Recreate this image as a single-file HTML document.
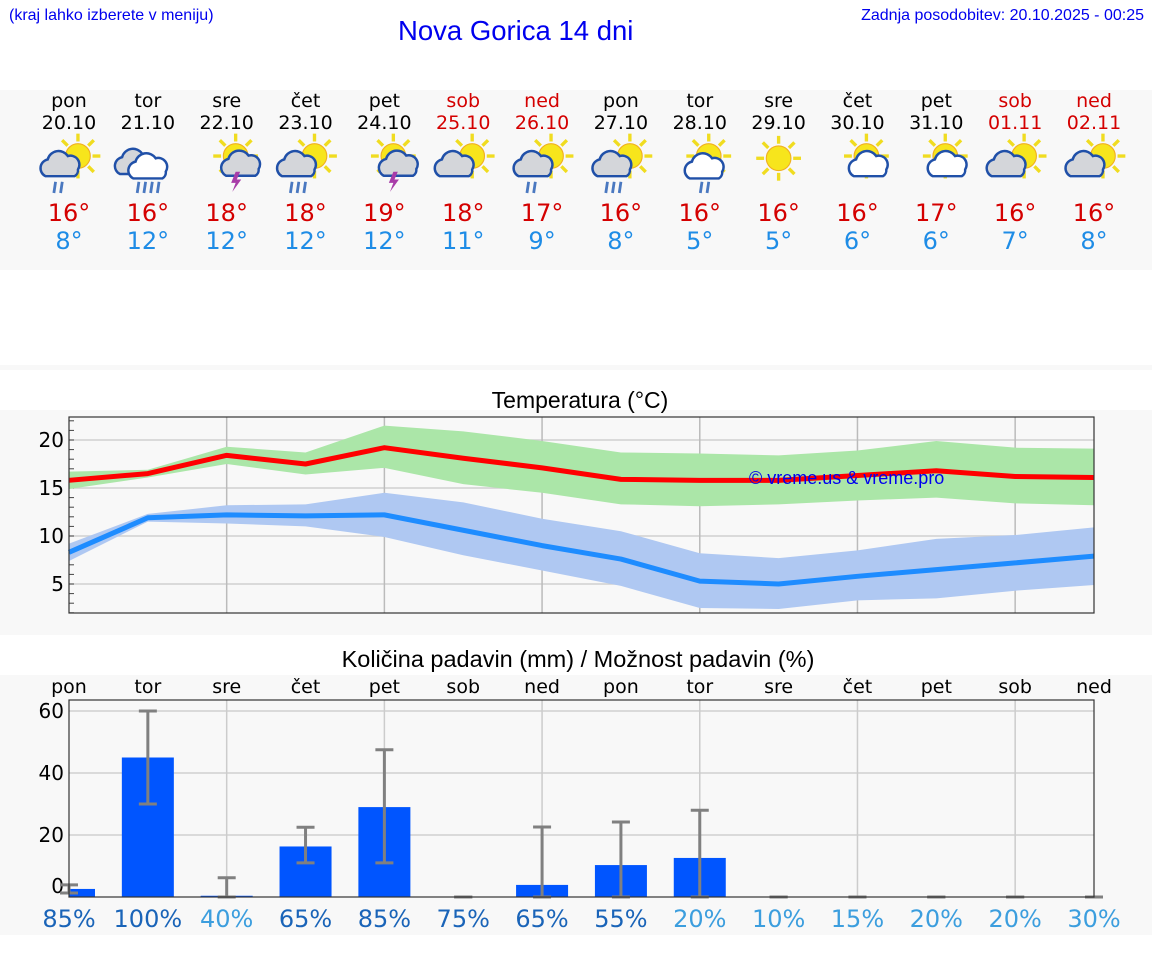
<!DOCTYPE html>
<html><head><meta charset="utf-8">
<style>
body{margin:0;width:1152px;height:975px;background:#fff;font-family:"Liberation Sans","DejaVu Sans",sans-serif;position:relative;overflow:hidden}
.abs{position:absolute}
</style></head>
<body>
<div class="abs" style="left:9px;top:7px;font-size:16px;color:#0000ee">(kraj lahko izberete v meniju)</div>
<div class="abs" style="left:398px;top:15px;font-size:27.5px;color:#0000ee">Nova Gorica 14 dni</div>
<div class="abs" style="right:8px;top:7px;font-size:16px;color:#0000ee">Zadnja posodobitev: 20.10.2025 - 00:25</div>
<div class="abs" style="left:0;top:90px;width:1152px;height:180px;background:#f8f8f8"></div>
<div class="abs" style="left:0;top:365px;width:1152px;height:5px;background:#f8f8f8"></div>
<div class="abs" style="left:0;top:410px;width:1152px;height:225px;background:#f8f8f8"></div>
<div class="abs" style="left:0;top:675px;width:1152px;height:260px;background:#f8f8f8"></div>
<svg id="s" class="abs" style="left:0;top:0" width="1152" height="975" font-family="DejaVu Sans, sans-serif"></svg>
<script>
const days=["pon","tor","sre","čet","pet","sob","ned","pon","tor","sre","čet","pet","sob","ned"];
const dates=["20.10","21.10","22.10","23.10","24.10","25.10","26.10","27.10","28.10","29.10","30.10","31.10","01.11","02.11"];
const weekend=[0,0,0,0,0,1,1,0,0,0,0,0,1,1];
const icons=["scr2","cr4","sl","scr3","sl","sc","scr2","scr3","swr2","s","sw","sw","sc","sc"];
const tmax=[15.8,16.5,18.4,17.5,19.2,18.1,17.1,15.9,15.8,15.8,16.3,16.8,16.2,16.1];
const tmaxHi=[16.7,16.9,19.3,18.7,21.5,20.9,19.9,18.7,18.6,18.4,18.9,19.9,19.2,19.1];
const tmaxLo=[14.9,16.1,17.5,16.4,17.1,15.4,14.5,13.3,13.1,13.3,13.7,14.0,13.4,13.2];
const tmin=[8.3,11.9,12.2,12.1,12.2,10.6,9.0,7.6,5.3,5.0,5.8,6.5,7.2,7.9];
const tminHi=[9.2,12.3,13.2,13.3,14.5,13.5,11.8,10.5,8.2,7.7,8.5,9.7,10.1,10.9];
const tminLo=[7.4,11.5,11.3,11.0,9.9,8.0,6.4,4.8,2.5,2.4,3.3,3.5,4.3,4.9];
const hiLabels=[16,16,18,18,19,18,17,16,16,16,16,17,16,16];
const loLabels=[8,12,12,12,12,11,9,8,5,5,6,6,7,8];
const precip=[2.6,45,0.4,16.3,29,0,3.9,10.3,12.6,0,0,0,0,0];
const precipLo=[1.3,30,0,11,11,0,0,0,0,0,0,0,0,0];
const precipHi=[3.9,60,6.2,22.5,47.5,0,22.6,24.2,28,0,0,0,0,0];
const chance=[85,100,40,65,85,75,65,55,20,10,15,20,20,30];
const tTicks=[5,10,15,20];
const pTicks=[0,20,40,60];

const S=document.getElementById('s');const NS='http://www.w3.org/2000/svg';
function mk(t,a,p){const e=document.createElementNS(NS,t);for(const k in a)e.setAttribute(k,a[k]);(p||S).appendChild(e);return e;}
const X=i=>69+i*(1094-69)/13;
const TY=v=>440+(20-v)*9.6;
const PY=v=>897-v*3.1;

days.forEach((d,i)=>{
 const c=weekend[i]?'#d40000':'#000';
 let t=mk('text',{x:X(i),y:107,'text-anchor':'middle','font-size':19,fill:c});t.textContent=d;
 
 
 t=mk('text',{x:X(i),y:129,'text-anchor':'middle','font-size':19,fill:c});t.textContent=dates[i];
 
 
 t=mk('text',{x:X(i),y:221,'text-anchor':'middle','font-size':24,fill:'#d40000'});t.textContent=hiLabels[i]+'°';
 
 
 t=mk('text',{x:X(i),y:249,'text-anchor':'middle','font-size':24,fill:'#1e8ce6'});t.textContent=loLabels[i]+'°';
 
 
 const g=mk('g',{transform:`translate(${X(i)},165) scale(1.12)`});
 
 
 const ty=icons[i];
 const sun=ty[0]==='s';
 if(sun){const sx=ty==='s'?0:8,sy=ty==='s'?-6:-8;
  for(let k=0;k<8;k++){const a=k*Math.PI/4;mk('line',{x1:sx+Math.cos(a)*13,y1:sy+Math.sin(a)*13,x2:sx+Math.cos(a)*20,y2:sy+Math.sin(a)*20,stroke:'#f0dc20','stroke-width':3},g);}
  mk('circle',{cx:sx,cy:sy,r:11,fill:'#f7e51c',stroke:'#f0b020','stroke-width':1},g);}
 const cloud=(cx,cy,s,f)=>{mk('path',{d:`M${cx-15*s},${cy+8*s} a8 8 0 0 1 2,-15 a10 10 0 0 1 18,-3 a8 8 0 0 1 9,12 a6 6 0 0 1 -3,6 z`,fill:f,stroke:'#2050a8','stroke-width':2.2},g);};
 if(ty.includes('c')||ty==='cr4'){ if(ty==='cr4'){cloud(-10,0,1,'#d4d6da');cloud(2,4,1,'#fff');} else cloud(-6,2,1,'#d4d6da');}
 if(ty.includes('w')){cloud(ty==='sw'?8:6,4,ty==='sw'?0.75:1,'#fff');}
 if(ty==='sl'){cloud(10,4,0.7,'#d4d6da');mk('path',{d:'M8,6 l-4,10 h4 l-3,8 l8,-11 h-4 l3,-7z',fill:'#a83ca8'},g);}
 const m=ty.match(/r(\d)/);
 if(m){const n=+m[1];for(let k=0;k<n;k++){const x0=-12+k*6+(ty==='swr2'?14:0)+(ty==='cr4'?4:0);mk('line',{x1:x0,y1:15,x2:x0-1.5,y2:25,stroke:'#4a78c0','stroke-width':2.5},g);}}
});

let t=mk('text',{x:580,y:408,'text-anchor':'middle','font-size':23,fill:'#000','font-family':'Liberation Sans, sans-serif'});t.textContent='Temperatura (°C)';


mk('rect',{x:69,y:417,width:1025,height:196,fill:'#f8f8f8'});
tTicks.forEach(v=>{mk('line',{x1:69,x2:1094,y1:TY(v),y2:TY(v),stroke:'#d0d0d0','stroke-width':1.5});
 const l=mk('text',{x:64,y:TY(v)+7,'text-anchor':'end','font-size':20,fill:'#000'});l.textContent=v;
 
 });
for(let v=2;v<=22;v++)mk('line',{x1:69,x2:74,y1:TY(v),y2:TY(v),stroke:'#444','stroke-width':1});
for(let i=2;i<14;i+=2)mk('line',{x1:X(i),x2:X(i),y1:417,y2:613,stroke:'#bbb','stroke-width':1.5});
const band=(hi,lo,f,n)=>{let d='M'+hi.map((v,i)=>X(i)+','+TY(v)).join('L')+'L'+lo.map((v,i)=>X(i)+','+TY(v)).reverse().join('L')+'Z';const p=mk('path',{d,fill:f});
 
 };
band(tmaxHi,tmaxLo,'#abe6a8','max-temp-range');
band(tminHi,tminLo,'#afc8f2','min-temp-range');
let ln=mk('polyline',{points:tmax.map((v,i)=>X(i)+','+TY(v)).join(' '),fill:'none',stroke:'#ff0000','stroke-width':5,'stroke-linejoin':'round'});


ln=mk('polyline',{points:tmin.map((v,i)=>X(i)+','+TY(v)).join(' '),fill:'none',stroke:'#1e8cff','stroke-width':5,'stroke-linejoin':'round'});


t=mk('text',{x:749,y:484,'font-size':18,fill:'#0000ee','font-family':'Liberation Sans, sans-serif'});t.textContent='© vreme.us & vreme.pro';


mk('rect',{x:69,y:417,width:1025,height:196,fill:'none',stroke:'#333','stroke-width':1.2});

t=mk('text',{x:578,y:667,'text-anchor':'middle','font-size':23.5,fill:'#000','font-family':'Liberation Sans, sans-serif'});t.textContent='Količina padavin (mm) / Možnost padavin (%)';


days.forEach((d,i)=>{const l=mk('text',{x:X(i),y:693,'text-anchor':'middle','font-size':19,fill:'#000'});l.textContent=d;
 
 });
mk('rect',{x:69,y:700,width:1025,height:197,fill:'#f8f8f8'});
pTicks.forEach(v=>{if(v>0)mk('line',{x1:69,x2:1094,y1:PY(v),y2:PY(v),stroke:'#d0d0d0','stroke-width':1.5});
 const l=mk('text',{x:64,y:Math.min(PY(v)+7,893),'text-anchor':'end','font-size':20,fill:'#000'});l.textContent=v;
 
 });
for(let i=2;i<14;i+=2)mk('line',{x1:X(i),x2:X(i),y1:700,y2:897,stroke:'#ccc','stroke-width':1.5});
precip.forEach((v,i)=>{
 const x0=Math.max(69,X(i)-26),x1=Math.min(1094,X(i)+26);
 const b=mk('rect',{x:x0,y:PY(v),width:x1-x0,height:PY(0)-PY(v),fill:'#0055ff'});
 
 
 const e=mk('g',{stroke:'#808080','stroke-width':3});
 
 
 mk('line',{x1:X(i),x2:X(i),y1:PY(precipLo[i]),y2:PY(precipHi[i])},e);
 mk('line',{x1:X(i)-9,x2:X(i)+9,y1:PY(precipHi[i]),y2:PY(precipHi[i])},e);
 mk('line',{x1:X(i)-9,x2:X(i)+9,y1:PY(precipLo[i]),y2:PY(precipLo[i])},e);
 const c=mk('text',{x:X(i),y:927,'text-anchor':'middle','font-size':24,fill:chance[i]>=50?'#1a64b8':'#3c9ede'});c.textContent=chance[i]+'%';
 
 
});
mk('rect',{x:69,y:700,width:1025,height:197,fill:'none',stroke:'#333','stroke-width':1.2});
</script>
</body></html>
